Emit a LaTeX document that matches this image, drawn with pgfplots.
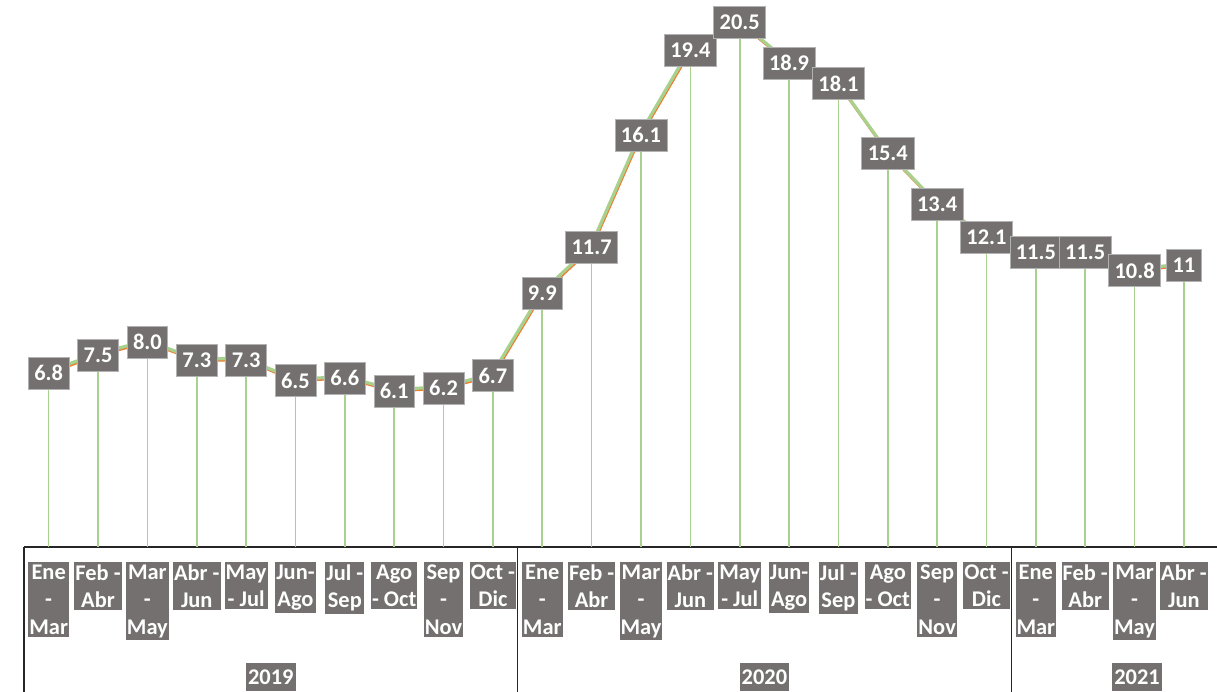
\documentclass[border=0pt]{standalone}
\usepackage{pgfplots}
\pgfplotsset{compat=1.18}
\usepackage{pgfplotstable}
\usepackage{fontspec}
\setmainfont{Carlito}
\definecolor{boxgray}{HTML}{747070}
\definecolor{lgreen}{HTML}{A9D18E}
\definecolor{orng}{HTML}{ED7D31}
\definecolor{axdark}{HTML}{262626}

\pgfplotstableread{
x y lab
0 6.8 6.8
1 7.5 7.5
2 8.0 8.0
3 7.3 7.3
4 7.3 7.3
5 6.5 6.5
6 6.6 6.6
7 6.1 6.1
8 6.2 6.2
9 6.7 6.7
10 9.9 9.9
11 11.7 11.7
12 16.1 16.1
13 19.4 19.4
14 20.5 20.5
15 18.9 18.9
16 18.1 18.1
17 15.4 15.4
18 13.4 13.4
19 12.1 12.1
20 11.5 11.5
21 11.5 11.5
22 10.8 10.8
23 11 11
}\data

\newcommand{\lblfont}{\fontsize{22.5}{27.5}\selectfont\bfseries}

\begin{document}
\begin{tikzpicture}
\begin{axis}[
  at={(24bp,145bp)}, anchor=south west,
  scale only axis, width=1193bp, height=547bp,
  xmin=-0.5, xmax=23.67, ymin=0, ymax=21.37,
  clip=false,
  axis y line=none,
  axis x line*=bottom,
  x axis line style={draw=axdark, line width=1.2bp},
  xtick={0,...,23},
  major tick length=0pt,
  xticklabels={{Ene\\-\\Mar},{Feb -\\Abr},{Mar\\-\\May},{Abr -\\Jun},{May\\- Jul},{Jun-\\Ago},{Jul -\\Sep},{Ago\\- Oct},{Sep\\-\\Nov},{Oct -\\Dic},
               {Ene\\-\\Mar},{Feb -\\Abr},{Mar\\-\\May},{Abr -\\Jun},{May\\- Jul},{Jun-\\Ago},{Jul -\\Sep},{Ago\\- Oct},{Sep\\-\\Nov},{Oct -\\Dic},
               {Ene\\-\\Mar},{Feb -\\Abr},{Mar\\-\\May},{Abr -\\Jun}},
  xticklabel style={fill=boxgray, text=white, font=\lblfont, align=center,
    inner xsep=1bp, inner ysep=2.5bp, anchor=north, yshift=-15bp},
]
\addplot[ycomb, draw=lgreen, line width=1.6bp, no marks] table[x=x,y=y]{\data};
\addplot[orng, line width=3bp, no marks] table[x=x,y=y]{\data};
\addplot[lgreen, line width=3.2bp, no marks, yshift=1.4bp, xshift=-0.7bp] table[x=x,y=y]{\data};
\addplot[draw=none, no marks,
  nodes near coords, point meta=explicit symbolic,
  every node near coord/.append style={anchor=center, fill=boxgray, text=white,
    font=\lblfont, inner xsep=6bp, inner ysep=0pt, minimum height=32bp,
    draw=gray!60, line width=0.6bp}]
  table[x=x,y=y,meta=lab]{\data};

\draw[axdark, line width=1.2bp] (axis cs:-0.5,0) -- (axis cs:-0.5,-5.66);
\draw[axdark, line width=1.2bp] (axis cs:9.5,0) -- (axis cs:9.5,-5.66);
\draw[axdark, line width=1.2bp] (axis cs:19.5,0) -- (axis cs:19.5,-5.66);
\node[fill=boxgray, text=white, font=\lblfont, inner xsep=2bp, inner ysep=0pt, minimum height=28bp] at (axis cs:4.5,-5.08) {2019};
\node[fill=boxgray, text=white, font=\lblfont, inner xsep=2bp, inner ysep=0pt, minimum height=28bp] at (axis cs:14.5,-5.08) {2020};
\node[fill=boxgray, text=white, font=\lblfont, inner xsep=2bp, inner ysep=0pt, minimum height=28bp] at (axis cs:22.05,-5.08) {2021};
\end{axis}
\pgfresetboundingbox
\path[use as bounding box] (0,0) rectangle (1217bp,692bp);
\end{tikzpicture}
\end{document}
